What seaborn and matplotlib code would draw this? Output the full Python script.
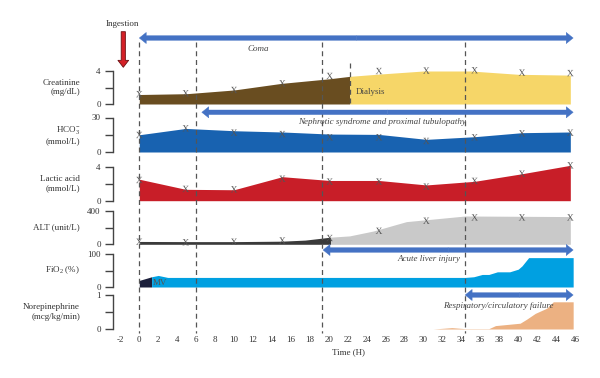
import matplotlib
matplotlib.use("Agg")
import matplotlib.pyplot as plt
import seaborn as sns

# hours at which labs were drawn
t_lab = [0, 4.9, 10, 15.1, 20.1, 25.3, 30.3, 35.4, 40.4, 45.5]

# creatinine (mg/dL), dialysis from 22.2 h
cre_t = [0, 5, 10, 15, 20, 22.2, 25, 30, 35, 40, 45.5]
cre_fill = [1.15, 1.25, 1.7, 2.5, 3.05, 3.35, 3.6, 4.0, 4.0, 3.6, 3.5]
cre_marks = [1.2, 1.3, 1.7, 2.5, 3.4, 4.0, 4.05, 4.1, 3.8, 3.75]
dialysis_start = 22.2

# HCO3- (mmol/L)
hco3_fill = [15, 20.5, 18.5, 17.4, 15.6, 15.3, 11, 13.3, 16.8, 17.4]
hco3_marks = [14.8, 20.6, 16.8, 15.6, 12.8, 12.8, 9.6, 12.8, 16.2, 16.8]

# lactic acid (mmol/L)
lac_fill = [2.55, 1.35, 1.3, 2.85, 2.4, 2.4, 1.87, 2.3, 3.2, 4.2]
lac_marks = [2.46, 1.4, 1.35, 2.6, 2.27, 2.27, 1.67, 2.35, 3.2, 4.2]

# ALT (unit/L)
alt_dark_t = [0, 5, 10, 15, 17.5, 20.2]
alt_dark = [34, 32, 32, 37, 50, 85]
alt_t = [20.2, 22.2, 24.7, 28.2, 31, 34.4, 45.5]
alt = [85, 100, 158, 270, 300, 337, 330]
alt_marks = [30, 25, 30, 45, 75, 160, 280, 320, 320, 320]

# FiO2 (%)
fio2_dark_t = [0, 1.3]
fio2_dark = [20, 31]
fio2_t = [1.3, 2.0, 3.0, 34.4, 35.3, 36.2, 36.9, 37.8, 39.1, 40.0, 40.4, 41.1, 45.8]
fio2 = [31, 35, 29, 29, 31, 38, 38, 46, 46, 54, 64, 89, 89]

# norepinephrine (mcg/kg/min)
ne_t = [31.0, 33.0, 34.4, 36.9, 37.6, 40.2, 40.9, 41.8, 43.0, 43.7, 45.8]
ne = [0.0, 0.04, 0.01, 0.01, 0.1, 0.17, 0.29, 0.46, 0.61, 0.8, 0.8]

event_lines = [0, 6, 19.3, 34.4]
x_ticks = list(range(-2, 47, 2))

sns.set_style("white")
plt.rcParams["font.family"] = ["Liberation Serif", "DejaVu Serif"]
plt.rcParams["mathtext.fontset"] = "custom"
plt.rcParams["mathtext.rm"] = "Liberation Serif"
plt.rcParams["mathtext.it"] = "Liberation Serif:italic"
plt.rcParams["axes.unicode_minus"] = False

W, H = 600, 378
fig = plt.figure(figsize=(6, 3.78), dpi=100)
xlim = (-2.776, 47)
left = 113 / W
width = (139.3 + 47 * 9.473 - 113) / W
fs = 6.5
txt = "#333333"
mark_col = "#555555"


def panel(ytop, ybot, top, label):
    ax = fig.add_axes([left, 1 - ybot / H, width, (ybot - ytop) / H])
    ax.patch.set_alpha(0)
    ax.set_xlim(xlim)
    ax.set_ylim(0, top)
    ax.set_yticks([0, top / 2, top])
    ax.set_yticklabels(["0", "", f"{top:g}"])
    sns.despine(ax=ax, bottom=True)
    ax.spines["left"].set_color("#444444")
    ax.spines["left"].set_linewidth(1)
    ax.tick_params(axis="y", left=True, direction="out", length=5.8, width=1,
                   color="#444444", pad=3, labelsize=fs, labelcolor=txt)
    ax.tick_params(axis="x", bottom=False, labelbottom=False)
    fig.text(80 / W, 1 - (ytop + ybot) / 2 / H, label, ha="right", va="center",
             fontsize=fs, color=txt, multialignment="right")
    return ax


def marks(ax, y):
    sns.scatterplot(x=t_lab, y=y, ax=ax, marker=r"$\mathrm{X}$", s=22,
                    color=mark_col, edgecolor="none", clip_on=False, zorder=5)


# creatinine
ax = panel(71, 104, 4, "Creatinine\n(mg/dL)")
i = cre_t.index(dialysis_start)
ax.fill_between(cre_t[:i + 1], 0, cre_fill[:i + 1], color="#694D20", lw=0, clip_on=False)
ax.fill_between(cre_t[i:], 0, cre_fill[i:], color="#F6D668", lw=0, clip_on=False)
marks(ax, cre_marks)

# HCO3
ax = panel(117.5, 152, 30, "HCO$_3^{-}$\n(mmol/L)")
ax.fill_between(t_lab, 0, hco3_fill, color="#1862B0", lw=0, clip_on=False)
marks(ax, hco3_marks)

# lactic acid
ax = panel(167, 200.7, 4, "Lactic acid\n(mmol/L)")
ax.fill_between(t_lab, 0, lac_fill, color="#C81E28", lw=0, clip_on=False)
marks(ax, lac_marks)

# ALT
ax = panel(210.7, 244.3, 400, "ALT (unit/L)")
ax.fill_between(alt_dark_t, 0, alt_dark, color="#3A3A3A", lw=0, clip_on=False)
ax.fill_between(alt_t, 0, alt, color="#C9C9C9", lw=0, clip_on=False)
marks(ax, alt_marks)

# FiO2
ax = panel(254, 287, 100, "FiO$_2$ (%)")
ax.fill_between(fio2_dark_t, 0, fio2_dark, color="#1B1F3B", lw=0, clip_on=False)
ax.fill_between(fio2_t, 0, fio2, color="#00A0E1", lw=0, clip_on=False)
ax.text(1.4, 12, "MV", fontsize=fs, color="#555555", va="center")

# norepinephrine
ax = panel(295, 329, 1, "Norepinephrine\n(mcg/kg/min)")
ax.fill_between(ne_t, 0, ne, color="#ECB182", lw=0, clip_on=False)
ax.set_xticks(x_ticks)
ax.tick_params(axis="x", bottom=False, labelbottom=True, length=0, pad=5,
               labelsize=fs, labelcolor=txt)
ax.set_xlabel("Time (H)", fontsize=fs, color=txt, labelpad=3)

# overlay in hours vs pixel rows for events and spans
ov = fig.add_axes([left, 0, width, 1])
ov.set_xlim(xlim)
ov.set_ylim(H, 0)
ov.axis("off")

ov.vlines(event_lines, 42, 333, colors="#555555", lw=0.9, linestyles=(0, (4, 3)))
ov.vlines([dialysis_start], 63, 104, colors="#555555", lw=0.9, linestyles=(0, (4, 3)))

blue = "#4472C4"


def span(t0, t1, y):
    mid = (t0 + t1) / 2
    for end in (t0, t1):
        ov.annotate("", xy=(end, y), xytext=(mid, y),
                    arrowprops=dict(arrowstyle="simple,head_length=0.5,head_width=0.8,tail_width=0.33",
                                    mutation_scale=10, fc=blue, ec=blue, lw=0.3,
                                    shrinkA=0, shrinkB=0))


span(0, 45.8, 38)
span(6.6, 45.8, 112.3)
span(19.4, 45.8, 250)
span(34.4, 45.8, 295)

ital = dict(style="italic", fontsize=fs, color="#444444", ha="center", va="center")
ov.text(12.6, 49, "Coma", **ital)
ov.text(25.6, 121.7, "Nephrotic syndrome and proximal tubulopathy", **ital)
ov.text(30.6, 259.3, "Acute liver injury", **ital)
ov.text(37.9, 305.7, "Respiratory/circulatory failure", **ital)
ov.text(22.9, 92, "Dialysis", fontsize=fs, color="#444444", va="center")

ov.text(-1.79, 24.3, "Ingestion", fontsize=fs, color=txt, ha="center", va="center")
ov.annotate("", xy=(-1.69, 67.3), xytext=(-1.69, 31.7),
            arrowprops=dict(arrowstyle="simple,head_length=0.5,head_width=0.77,tail_width=0.3",
                            mutation_scale=10, fc="#D42027", ec="#6B0F12", lw=0.6,
                            shrinkA=0, shrinkB=0))

fig.savefig("out.png", dpi=100)
